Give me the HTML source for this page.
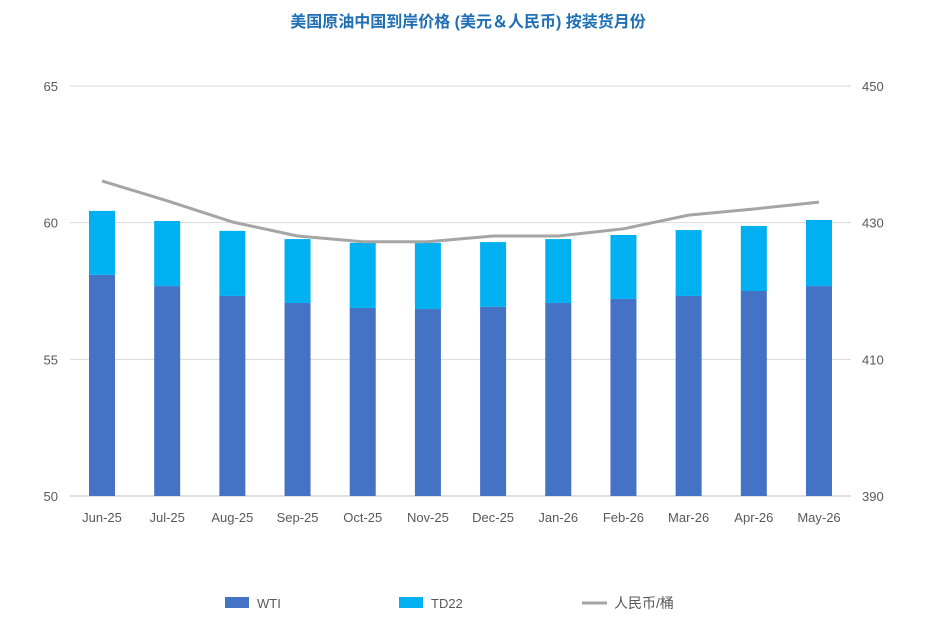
<!DOCTYPE html>
<html><head><meta charset="utf-8">
<style>
html,body{margin:0;padding:0;background:#fff;}
body{width:937px;height:634px;overflow:hidden;font-family:"Liberation Sans","Noto Sans CJK SC",sans-serif;}
</style></head>
<body>
<svg id="chart" width="937" height="634" xmlns="http://www.w3.org/2000/svg" font-family="Liberation Sans, Noto Sans CJK SC, sans-serif">
<text x="468" y="27" text-anchor="middle" font-size="16" font-weight="bold" fill="#1f6fb5">美国原油中国到岸价格 (美元＆人民币) 按装货月份</text>
<g id="grid"></g><g id="bars"></g><g id="line"></g><g id="axes"></g>
<g>
<rect x="225" y="597" width="24" height="11" fill="#4472c4"/>
<text x="257" y="608" font-size="13" fill="#595959">WTI</text>
<rect x="399" y="597" width="24" height="11" fill="#00b0f0"/>
<text x="431" y="608" font-size="13" fill="#595959">TD22</text>
<line x1="582" y1="603" x2="607" y2="603" stroke="#a5a5a5" stroke-width="3"/>
<text x="614" y="608" font-size="14" fill="#595959">人民币/桶</text>
</g>
</svg>
<script>
const categories=["Jun-25","Jul-25","Aug-25","Sep-25","Oct-25","Nov-25","Dec-25","Jan-26","Feb-26","Mar-26","Apr-26","May-26"];
const wti=[58.09,57.68,57.32,57.06,56.88,56.84,56.92,57.06,57.21,57.32,57.50,57.68];
const td22=[2.34,2.38,2.38,2.34,2.38,2.42,2.37,2.34,2.34,2.41,2.38,2.42];
const rmb=[436.1,433.2,430.1,428.05,427.2,427.2,428.05,428.05,429.1,431.1,432.0,433.0];
const leftTicks=[50,55,60,65];
const rightTicks=[390,410,430,450];
const NS="http://www.w3.org/2000/svg";
const yL=v=>496-(v-50)*(410/15);
const yR=v=>496-(v-390)*(410/60);
const xC=i=>102+i*(717/11);
function mk(t,a,p){const e=document.createElementNS(NS,t);for(const k in a)e.setAttribute(k,a[k]);document.getElementById(p).appendChild(e);return e;}
leftTicks.forEach((t,i)=>{
 const g=mk("line",{x1:70,x2:851,y1:yL(t),y2:yL(t),stroke:t===50?"#bfbfbf":"#d9d9d9","stroke-width":1},"grid");
 
 
 const l=mk("text",{x:58,y:yL(t)+5,"text-anchor":"end","font-size":13,fill:"#595959"},"axes");l.textContent=t;
 
 
});
rightTicks.forEach(t=>{
 const l=mk("text",{x:862,y:yR(t)+5,"font-size":13,fill:"#595959"},"axes");l.textContent=t;
 
 
});
categories.forEach((c,i)=>{
 const w=26,x=xC(i)-w/2;
 const b1=mk("rect",{x:x,y:yL(wti[i]),width:w,height:yL(50)-yL(wti[i]),fill:"#4472c4"},"bars");
 
 
 const b2=mk("rect",{x:x,y:yL(wti[i]+td22[i]),width:w,height:yL(wti[i])-yL(wti[i]+td22[i]),fill:"#00b0f0"},"bars");
 
 
 const l=mk("text",{x:xC(i),y:522,"text-anchor":"middle","font-size":13,fill:"#595959"},"axes");l.textContent=c;
 
 
});
const p=mk("polyline",{points:rmb.map((v,i)=>xC(i)+","+yR(v)).join(" "),fill:"none",stroke:"#a5a5a5","stroke-width":3,"stroke-linejoin":"round"},"line");


</script>
</body></html>
